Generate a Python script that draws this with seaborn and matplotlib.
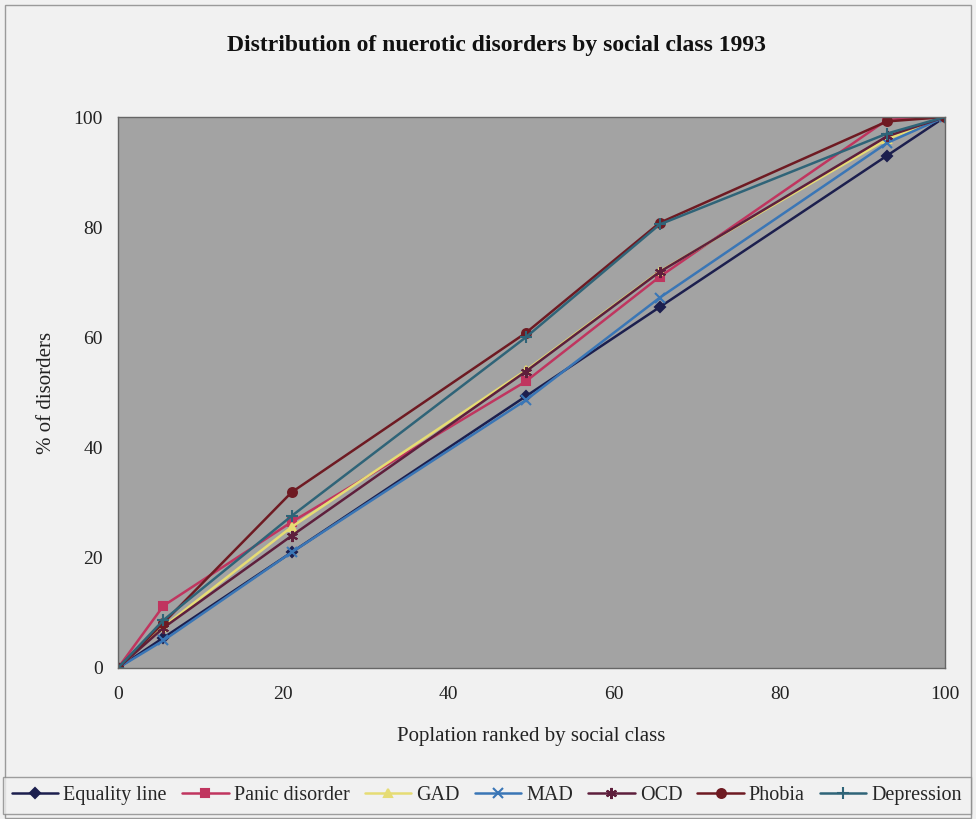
import matplotlib
matplotlib.use("Agg")
import matplotlib.pyplot as plt
import seaborn as sns
import pandas as pd
from matplotlib.patches import Rectangle

sns.set_style("white")
plt.rcParams['font.family'] = ['Liberation Serif', 'DejaVu Serif']

population = [0, 5.5, 21, 49.3, 65.5, 93, 100]
equality = [0, 5.5, 21, 49.3, 65.5, 93, 100]
panic = [0, 11.3, 26.5, 52.0, 71.0, 99.5, 100]
gad = [0, 7.5, 25.6, 54.0, 72.0, 96.0, 100]
mad = [0, 5.0, 21.0, 48.6, 67.2, 95.3, 100]
ocd = [0, 7.3, 24.0, 53.8, 71.9, 96.5, 100]
phobia = [0, 8.2, 31.9, 60.8, 80.8, 99.2, 100]
depression = [0, 8.7, 27.6, 60.0, 80.5, 97.0, 100]

series_names = ["Equality line", "Panic disorder", "GAD", "MAD", "OCD", "Phobia", "Depression"]
series_values = [equality, panic, gad, mad, ocd, phobia, depression]
colors = ["#1c1f4e", "#c0355f", "#e6dc74", "#3a76b6", "#5e1f3c", "#6e1a22", "#2f6478"]
markers = ["D", "s", "^", "x", (6, 2, 0), "o", "+"]
msizes = [7, 8, 8, 9, 10, 8, 10]

fig = plt.figure(figsize=(9.76, 8.19), dpi=100)
fig.patch.set_facecolor("#f1f1f1")
W, H = 976, 819
ax = fig.add_axes([118 / W, 1 - 668 / H, (945 - 118) / W, (668 - 117) / H])
ax.set_facecolor("#a3a3a3")

for name, vals, c, m, ms in zip(series_names, series_values, colors, markers, msizes):
    df = pd.DataFrame({"x": population, "y": vals})
    sns.lineplot(data=df, x="x", y="y", ax=ax, color=c, marker=m, markersize=ms,
                 markeredgecolor=c, markeredgewidth=1.5, linewidth=1.8, label=name,
                 legend=False)

ax.set_xlim(0, 100)
ax.set_ylim(0, 100)
ax.set_xticks([0, 20, 40, 60, 80, 100])
ax.set_yticks([0, 20, 40, 60, 80, 100])
ax.tick_params(axis="both", direction="out", length=5, width=1, color="#555555",
               labelsize=14, labelcolor="#222222", pad=6)
ax.tick_params(axis="x", pad=8)
for s in ax.spines.values():
    s.set_color("#666666")
    s.set_linewidth(1.0)
ax.set_xlabel("Poplation ranked by social class", fontsize=15, color="#222222", labelpad=17)
ax.set_ylabel("% of disorders", fontsize=15, color="#222222")
ax.yaxis.set_label_coords(-62 / (945 - 118), 0.5)
ax.grid(False)

fig.text(496 / W, 1 - 45 / H, "Distribution of nuerotic disorders by social class 1993",
         ha="center", va="center", fontsize=17, fontweight="bold", color="#111111")

# outer chart border
fig.add_artist(Rectangle((5 / W, 1 - 818 / H), 966 / W, 813 / H, transform=fig.transFigure,
                         fill=False, edgecolor="#9a9a9a", linewidth=1.0))

handles, labels = ax.get_legend_handles_labels()
for h in handles:
    h.set_markersize(h.get_markersize() * 0.8)
leg = fig.legend(handles, labels, loc="lower left",
                 bbox_to_anchor=(3 / W, 1 - 814 / H, 968 / W, 38 / H), mode="expand",
                 ncol=7, fontsize=14.5, frameon=True, fancybox=False, handlelength=2.3,
                 handletextpad=0.25, columnspacing=0.3, borderpad=0.45, borderaxespad=0)
leg.get_frame().set_edgecolor("#888888")
leg.get_frame().set_facecolor("#f1f1f1")
leg.get_frame().set_linewidth(1.0)

fig.savefig("out.png", dpi=100, facecolor=fig.get_facecolor())
